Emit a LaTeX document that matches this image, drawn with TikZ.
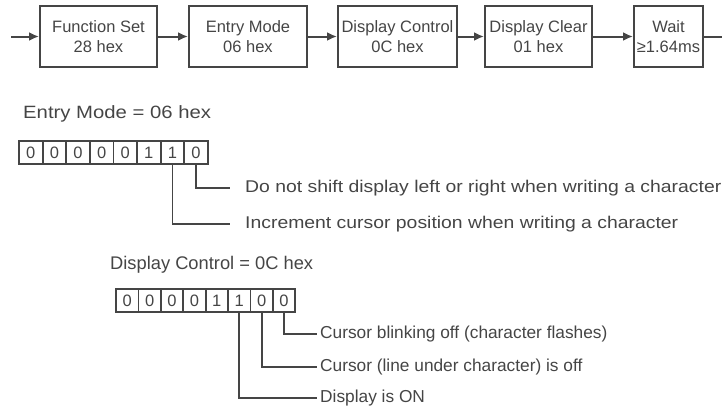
\documentclass[tikz,border=0pt]{standalone}
\usepackage{fontspec}
\setmainfont{Liberation Sans}
\newfontfamily\widefont{Liberation Sans}[FakeStretch=1.14]
\usetikzlibrary{arrows.meta}

\definecolor{ink}{gray}{0.27}

\tikzset{
  stage/.style={draw=ink, line width=2pt, text=ink, align=center, inner sep=0pt,
    minimum height=61pt, font=\fontsize{16.5}{20}\selectfont},
  bit/.style={draw=ink, line width=1.8pt, text=ink, inner sep=0pt,
    minimum height=23pt, font=\fontsize{16.5}{18}\selectfont},
  flow/.style={draw=ink, line width=2pt, -{Latex[length=10pt,width=9pt]}},
  lead/.style={draw=ink, line width=1.8pt},
  note/.style={text=ink, anchor=west, inner sep=0pt, text height=12pt, text depth=4pt},
  widenote/.style={note, font=\widefont\fontsize{17}{20}\selectfont},
  plainnote/.style={note, font=\fontsize{17.3}{20}\selectfont},
}

\begin{document}
\begin{tikzpicture}[x=1pt,y=-1pt]
  \useasboundingbox (0,0) rectangle (722,407);

  % Init sequence
  \node [stage, minimum width=117pt] (fs) at(98.5,36.5) {Function Set\\28 hex};
  \node [stage, minimum width=118pt] (em) at(248,36.5) {Entry Mode\\06 hex};
  \node [stage, minimum width=119pt] (dc) at(397.5,36.5) {Display Control\\0C hex};
  \node [stage, minimum width=107pt] (dl) at(538.5,36.5) {Display Clear\\01 hex};
  \node [stage, minimum width=69pt] (wt) at(668.5,36.5) {Wait\\≥1.64ms};
  \coordinate (in) at(11,36.5);
  \coordinate (out) at(722,36.5);

  \draw [flow] (in)--(fs);
  \draw [flow] (fs)--(em);
  \draw [flow] (em)--(dc);
  \draw [flow] (dc)--(dl);
  \draw [flow] (dl)--(wt);
  \draw [lead, line width=2pt] (wt)--(out);

  % Entry mode bits
  \node [note, font=\widefont\fontsize{17.8}{20}\selectfont] (emtitle) at(23,114) {Entry Mode = 06 hex};
  \foreach \b [count=\i] in {0,0,0,0,0,1,1,0}
    \node [bit, minimum width=23.6pt] (emb\i) at({19+23.6*(\i-0.5)},152.5) {\b};

  \node [widenote] (emshift) at(245,188) {Do not shift display left or right when writing a character};
  \node [widenote] (eminc) at(245,224) {Increment cursor position when writing a character};
  \draw [lead] (emb8.south) |- ([xshift=-15pt]emshift.west);
  \draw [lead] (emb7.south) |- ([xshift=-15pt]eminc.west);

  % Display control bits
  \node [note, font=\fontsize{18.3}{20}\selectfont] (dctitle) at(110,265) {Display Control = 0C hex};
  \foreach \b [count=\i] in {0,0,0,0,1,1,0,0}
    \node [bit, minimum width=22.4pt] (dcb\i) at({116+22.4*(\i-0.5)},300.5) {\b};

  \node [plainnote] (dcblink) at(320,334) {Cursor blinking off (character flashes)};
  \node [plainnote] (dccur) at(320,367) {Cursor (line under character) is off};
  \node [plainnote] (dcon) at(320,398) {Display is ON};
  \draw [lead] (dcb8.south) |- ([xshift=-3pt]dcblink.west);
  \draw [lead] (dcb7.south) |- ([xshift=-3pt]dccur.west);
  \draw [lead] (dcb6.south) |- ([xshift=-3pt]dcon.west);
\end{tikzpicture}
\end{document}
